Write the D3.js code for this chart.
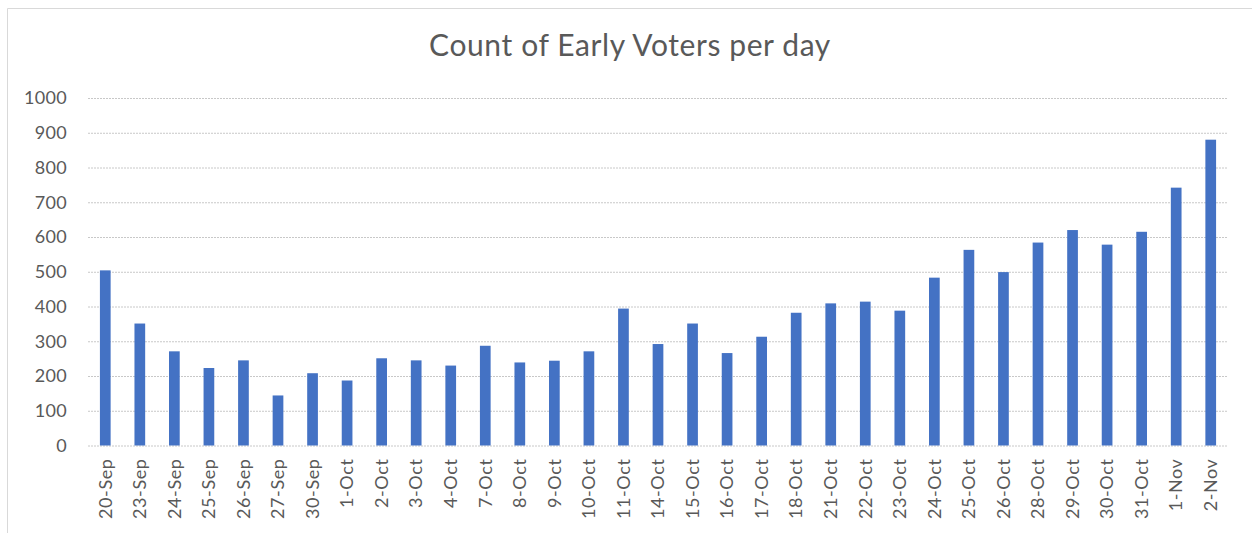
<!DOCTYPE html>
<html>
<head>
<meta charset="utf-8">
<script src="https://cdn.jsdelivr.net/npm/d3@7"></script>
<style>
  body { margin: 0; background: #fff; }
  svg text { font-family: Lato, "Open Sans", sans-serif; fill: #595959; }
</style>
</head>
<body>
<div id="chart"></div>
<script>
// data
const days = ['20-Sep', '23-Sep', '24-Sep', '25-Sep', '26-Sep', '27-Sep', '30-Sep',
  '1-Oct', '2-Oct', '3-Oct', '4-Oct', '7-Oct', '8-Oct', '9-Oct', '10-Oct', '11-Oct',
  '14-Oct', '15-Oct', '16-Oct', '17-Oct', '18-Oct', '21-Oct', '22-Oct', '23-Oct',
  '24-Oct', '25-Oct', '26-Oct', '28-Oct', '29-Oct', '30-Oct', '31-Oct', '1-Nov', '2-Nov'];
const voters = [504, 351, 271, 223, 245, 144, 208, 187, 251, 245, 230, 287, 239, 244,
  271, 394, 292, 351, 266, 313, 382, 409, 414, 388, 483, 563, 499, 584, 620, 578, 615, 742, 880];
const yTicks = [0, 100, 200, 300, 400, 500, 600, 700, 800, 900, 1000];
const title = 'Count of Early Voters per day';

const width = 1252;
const height = 533;
const margin = { top: 98, right: 24, bottom: 87.5, left: 90 };

const svg = d3.select('#chart').append('svg').attr('width', width).attr('height', height);

// frame (only top and left edges are visible in the reference)
svg.append('line').attr('x1', 7.5).attr('x2', width).attr('y1', 8.5).attr('y2', 8.5)
  .attr('stroke', '#d9d9d9');
svg.append('line').attr('x1', 7.5).attr('x2', 7.5).attr('y1', 8.5).attr('y2', height)
  .attr('stroke', '#d9d9d9');

svg.append('text')
  .attr('x', 630).attr('y', 56)
  .attr('text-anchor', 'middle')
  .style('font-size', '30px')
  .style('letter-spacing', '0.6px')
  .text(title);

const x = d3.scaleBand()
  .domain(days)
  .range([margin.left - 2, width - margin.right])
  .paddingInner(0.69)
  .paddingOuter(0.345);

const y = d3.scaleLinear()
  .domain([0, 1000])
  .range([height - margin.bottom, margin.top]);

// gridlines
svg.append('g')
  .attr('transform', `translate(${margin.left - 2},0)`)
  .call(d3.axisLeft(y).tickValues(yTicks).tickSize(-(width - margin.right - margin.left + 2)).tickFormat(''))
  .call(g => g.select('.domain').remove())
  .call(g => g.selectAll('line').attr('stroke', '#c8c8c8').attr('stroke-dasharray', '2,1'));

// y axis labels
svg.append('g')
  .attr('transform', `translate(${margin.left - 2},0)`)
  .call(d3.axisLeft(y).tickValues(yTicks).tickFormat(d3.format('d')).tickSize(0).tickPadding(21))
  .call(g => g.select('.domain').remove())
  .call(g => g.selectAll('text').style('font-size', '18px').style('letter-spacing', '0.3px'));

svg.append('g')
  .selectAll('rect')
  .data(voters)
  .join('rect')
  .attr('x', (d, i) => x(days[i]))
  .attr('width', x.bandwidth())
  .attr('y', d => y(d))
  .attr('height', d => y(0) - y(d))
  .attr('fill', '#4472c4');

// x axis labels, rotated
svg.append('g')
  .attr('transform', `translate(0,${height - margin.bottom})`)
  .call(d3.axisBottom(x).tickSize(0))
  .call(g => g.select('.domain').remove())
  .call(g => g.selectAll('text')
    .style('font-size', '18px')
    .style('letter-spacing', '0.6px')
    .attr('transform', 'rotate(-90)')
    .attr('text-anchor', 'end')
    .attr('x', -13)
    .attr('y', 0)
    .attr('dy', '0.35em'));
</script>
</body>
</html>
